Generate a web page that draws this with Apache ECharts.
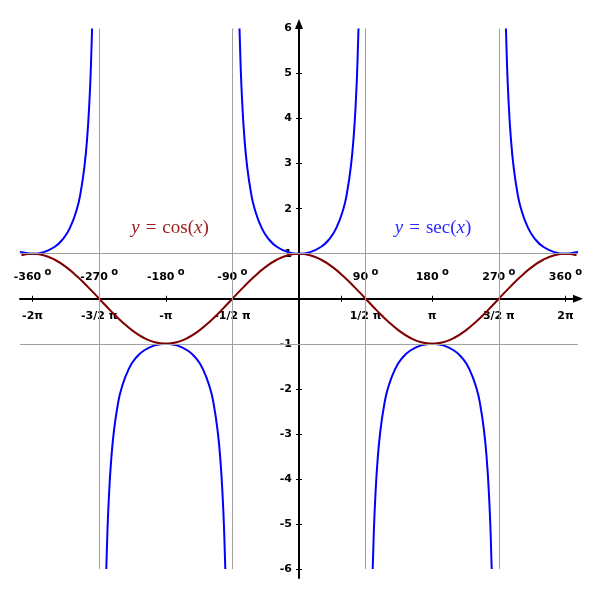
<!DOCTYPE html>
<html>
<head>
<meta charset="utf-8">
<script src="https://cdn.jsdelivr.net/npm/echarts@6.0.0/dist/echarts.min.js"></script>
<style>
html, body { margin: 0; padding: 0; background: #fff; }
#main { width: 600px; height: 600px; }
</style>
</head>
<body>
<div id="main"></div>
<script>
// angles in degrees
const cosX = [-375, -360, -345, -330, -315, -300, -285, -270, -255, -240, -225, -210, -195,
    -180, -165, -150, -135, -120, -105, -90, -75, -60, -45, -30, -15,
    0, 15, 30, 45, 60, 75, 90, 105, 120, 135, 150, 165,
    180, 195, 210, 225, 240, 255, 270, 285, 300, 315, 330, 345, 360, 375];
const cosY = [0.966, 1, 0.966, 0.866, 0.707, 0.5, 0.259, 0, -0.259, -0.5, -0.707, -0.866, -0.966,
    -1, -0.966, -0.866, -0.707, -0.5, -0.259, 0, 0.259, 0.5, 0.707, 0.866, 0.966,
    1, 0.966, 0.866, 0.707, 0.5, 0.259, 0, -0.259, -0.5, -0.707, -0.866, -0.966,
    -1, -0.966, -0.866, -0.707, -0.5, -0.259, 0, 0.259, 0.5, 0.707, 0.866, 0.966, 1, 0.966];

// null = break between branches
const secX = [-377, -375, -360, -345, -330, -320, -310, -300, -295, -290, -286, -283, -281, -279.6, null,
    -260.4, -259, -257, -254, -250, -245, -240, -230, -220, -210, -195, -180,
    -165, -150, -140, -130, -120, -115, -110, -106, -103, -101, -99.6, null,
    -80.4, -79, -77, -74, -70, -65, -60, -50, -40, -30, -15, 0,
    15, 30, 40, 50, 60, 65, 70, 74, 77, 79, 80.4, null,
    99.6, 101, 103, 106, 110, 115, 120, 130, 140, 150, 165, 180,
    195, 210, 220, 230, 240, 245, 250, 254, 257, 259, 260.4, null,
    279.6, 281, 283, 286, 290, 295, 300, 310, 320, 330, 345, 360, 375, 377];
const secY = [1.046, 1.035, 1, 1.035, 1.155, 1.305, 1.556, 2, 2.366, 2.924, 3.628, 4.445, 5.241, 6, null,
    -6, -5.241, -4.445, -3.628, -2.924, -2.366, -2, -1.556, -1.305, -1.155, -1.035, -1,
    -1.035, -1.155, -1.305, -1.556, -2, -2.366, -2.924, -3.628, -4.445, -5.241, -6, null,
    6, 5.241, 4.445, 3.628, 2.924, 2.366, 2, 1.556, 1.305, 1.155, 1.035, 1,
    1.035, 1.155, 1.305, 1.556, 2, 2.366, 2.924, 3.628, 4.445, 5.241, 6, null,
    -6, -5.241, -4.445, -3.628, -2.924, -2.366, -2, -1.556, -1.305, -1.155, -1.035, -1,
    -1.035, -1.155, -1.305, -1.556, -2, -2.366, -2.924, -3.628, -4.445, -5.241, -6, null,
    6, 5.241, 4.445, 3.628, 2.924, 2.366, 2, 1.556, 1.305, 1.155, 1.035, 1, 1.035, 1.046];

const degTicks = [-360, -270, -180, -90, 90, 180, 270, 360];
const xTickMarks = [-360, -270, -180, -90, 57.3, 90, 180, 270, 360]; // 57.3 = 1 rad
const piLabels = ['-2π', '-3/2 π', '-π', '-1/2 π', '1/2 π', 'π', '3/2 π', '2π'];
const yTicks = [-6, -5, -4, -3, -2, -1, 1, 2, 3, 4, 5, 6];
const asymptotes = [-270, -90, 90, 270];
const levels = [-1, 1];

const labelFont = 'DejaVu Sans';
const mathFont = 'Liberation Serif';

function makeData(xs, ys) {
    return xs.map((x, i) => (x === null ? ['-', '-'] : [x, ys[i]]));
}

let chartDom = document.getElementById('main');
let myChart = echarts.init(chartDom);

let xRange = { min: -377, max: 377 };
let yRange = { min: -6.2, max: 6.1 };
let box = { left: 20, right: 22, top: 24, bottom: 22 };

// axes are moved onto the origin with offsets (labels follow the line)
let plotW = 600 - box.left - box.right;
let plotH = 600 - box.top - box.bottom;
let zeroX = box.left + (0 - xRange.min) / (xRange.max - xRange.min) * plotW;
let zeroY = box.top + (yRange.max - 0) / (yRange.max - yRange.min) * plotH;
let offBottom = -((600 - box.bottom) - zeroY);
let offTop = -(zeroY - box.top);
let offLeft = -(zeroX - box.left);
let offRight = -((600 - box.right) - zeroX);

let guideLines = [];
asymptotes.forEach(x => guideLines.push([{ coord: [x, -6] }, { coord: [x, 6] }]));
levels.forEach(y => guideLines.push([{ coord: [xRange.min, y] }, { coord: [xRange.max, y] }]));

let tickStyle = { color: '#000', width: 1 };

let option = {
    animation: false,
    grid: Object.assign({ outerBoundsMode: 'none', containLabel: false }, box),
    xAxis: [{
        type: 'value', position: 'bottom', offset: offBottom, min: xRange.min, max: xRange.max,
        axisLine: {
            onZero: false, symbol: ['none', 'triangle'], symbolSize: [8, 10],
            lineStyle: { color: '#000', width: 2 }
        },
        axisTick: { customValues: xTickMarks, length: 3, lineStyle: tickStyle },
        axisLabel: {
            customValues: degTicks, margin: 12,
            formatter: v => piLabels[degTicks.indexOf(v)],
            color: '#000', fontFamily: labelFont, fontWeight: 'bold', fontSize: 11
        },
        splitLine: { show: false }
    }, {
        type: 'value', position: 'top', offset: offTop, min: xRange.min, max: xRange.max,
        axisLine: { show: false, onZero: false },
        axisTick: { customValues: xTickMarks, length: 3, lineStyle: tickStyle },
        axisLabel: {
            customValues: degTicks, margin: 13,
            formatter: v => '{n|' + v + '} {d|o}',
            rich: {
                n: { color: '#000', fontFamily: labelFont, fontWeight: 'bold', fontSize: 11 },
                d: { color: '#000', fontFamily: labelFont, fontWeight: 'bold', fontSize: 10, padding: [0, 0, 8, 0] }
            }
        },
        splitLine: { show: false }
    }],
    yAxis: [{
        type: 'value', position: 'left', offset: offLeft, min: yRange.min, max: yRange.max,
        axisLine: {
            onZero: false, symbol: ['none', 'triangle'], symbolSize: [8, 10],
            lineStyle: { color: '#000', width: 2 }
        },
        axisTick: { customValues: yTicks, length: 3, lineStyle: tickStyle },
        axisLabel: {
            customValues: yTicks, margin: 7,
            color: '#000', fontFamily: labelFont, fontWeight: 'bold', fontSize: 11
        },
        splitLine: { show: false }
    }, {
        type: 'value', position: 'right', offset: offRight, min: yRange.min, max: yRange.max,
        axisLine: { show: false, onZero: false },
        axisTick: { customValues: yTicks, length: 3, lineStyle: tickStyle },
        axisLabel: { show: false },
        splitLine: { show: false }
    }],
    series: [{
        type: 'line', data: [], z: 1, silent: true,
        markLine: {
            silent: true, symbol: 'none', label: { show: false },
            lineStyle: { color: '#a0a0a0', width: 1, type: 'solid' },
            data: guideLines
        }
    }, {
        name: 'sec', type: 'line', smooth: true, showSymbol: false, z: 3,
        data: makeData(secX, secY),
        lineStyle: { color: '#0000ff', width: 2 }
    }, {
        name: 'cos', type: 'line', smooth: true, showSymbol: false, z: 4,
        data: makeData(cosX, cosY),
        lineStyle: { color: '#800000', width: 2 }
    }],
    graphic: [{
        type: 'text', x: 170, y: 228,
        style: {
            text: '{i|y}{e|=}cos({i|x})', align: 'center', verticalAlign: 'middle',
            fill: '#9b1c1c', font: '19px "' + mathFont + '"',
            rich: {
                i: { fontStyle: 'italic', fontFamily: mathFont, fontSize: 19, color: '#9b1c1c' },
                e: { fontFamily: mathFont, fontSize: 19, color: '#9b1c1c', padding: [0, 6, 0, 6] }
            }
        }
    }, {
        type: 'text', x: 433, y: 228,
        style: {
            text: '{i|y}{e|=}sec({i|x})', align: 'center', verticalAlign: 'middle',
            fill: '#2b2bff', font: '19px "' + mathFont + '"',
            rich: {
                i: { fontStyle: 'italic', fontFamily: mathFont, fontSize: 19, color: '#2b2bff' },
                e: { fontFamily: mathFont, fontSize: 19, color: '#2b2bff', padding: [0, 6, 0, 6] }
            }
        }
    }]
};

option && myChart.setOption(option);
</script>
</body>
</html>
